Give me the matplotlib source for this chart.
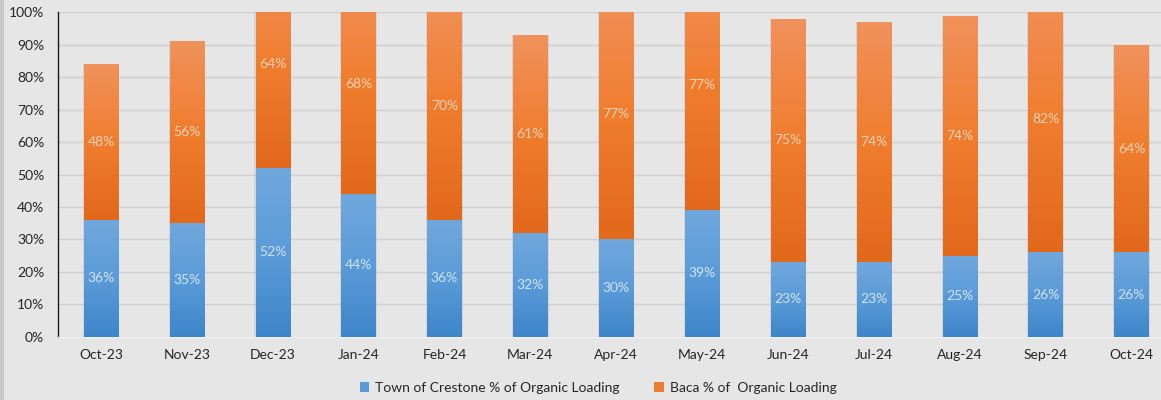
import numpy as np
import matplotlib
matplotlib.use("Agg")
import matplotlib.pyplot as plt
from matplotlib.ticker import PercentFormatter, MultipleLocator
from matplotlib.colors import LinearSegmentedColormap
from matplotlib.patches import Rectangle

months = ["Oct-23", "Nov-23", "Dec-23", "Jan-24", "Feb-24", "Mar-24", "Apr-24",
          "May-24", "Jun-24", "Jul-24", "Aug-24", "Sep-24", "Oct-24"]
crestone = [36, 35, 52, 44, 36, 32, 30, 39, 23, 23, 25, 26, 26]
baca = [48, 56, 64, 68, 70, 61, 77, 77, 75, 74, 74, 82, 64]
series_names = ["Town of Crestone % of Organic Loading", "Baca % of  Organic Loading"]

plt.rcParams['font.family'] = ['Lato', 'DejaVu Sans']

bg = "#e6e6e6"
fig = plt.figure(figsize=(11.61, 4.0), dpi=100, facecolor=bg)
ax = fig.add_axes([58/1161, 1-336.7/400, (1174.4-58)/1161, (336.7-12.3)/400])
ax.set_facecolor(bg)

ymax = 100
x = np.arange(len(months))
w = 0.40
b1 = ax.bar(x, crestone, width=w, color="none", edgecolor="none", zorder=3)
b2 = ax.bar(x, baca, width=w, bottom=crestone, color="none", edgecolor="none", zorder=3)

blue_cmap = LinearSegmentedColormap.from_list("b", ["#3d86c9", "#5a9bd8", "#70a8dd"])
orange_cmap = LinearSegmentedColormap.from_list("o", ["#e2681a", "#f07d2e", "#f1925c"])

grad = np.linspace(0, 1, 256).reshape(-1, 1)
for bars, cmap in ((b1, blue_cmap), (b2, orange_cmap)):
    for p in bars:
        x0, y0 = p.get_x(), p.get_y()
        ww, hh = p.get_width(), p.get_height()
        top = min(y0 + hh, ymax)
        sh = Rectangle((x0 - 0.012, y0), ww + 0.024, top - y0, facecolor="#b8b8b8",
                       edgecolor="none", alpha=0.35, zorder=2)
        ax.add_patch(sh)
        im = ax.imshow(grad, cmap=cmap, aspect="auto", origin="lower",
                       extent=[x0, x0 + ww, y0, y0 + hh], zorder=3,
                       interpolation="bilinear")
        clip = Rectangle((x0, y0), ww, top - y0, transform=ax.transData)
        im.set_clip_path(clip)

for i in range(len(months)):
    ax.text(x[i], crestone[i] / 2, f"{crestone[i]}%", ha="center", va="center",
            fontsize=10, color="white", alpha=0.72, zorder=5)
    ax.text(x[i], crestone[i] + baca[i] / 2, f"{baca[i]}%", ha="center", va="center",
            fontsize=10, color="white", alpha=0.65, zorder=5)

ax.set_xlim(-0.5, len(months) - 0.5)
ax.set_ylim(0, ymax)
ax.yaxis.set_major_locator(MultipleLocator(10))
ax.yaxis.set_major_formatter(PercentFormatter(decimals=0))
ax.set_xticks(x)
ax.set_xticklabels(months)
ax.tick_params(axis="both", length=0, labelsize=10, colors="#262626")
ax.tick_params(axis="x", pad=9)
ax.tick_params(axis="y", pad=10)
ax.grid(axis="y", color="#cfcfcf", linewidth=1, zorder=0)
ax.set_axisbelow(True)
for s in ["top", "right"]:
    ax.spines[s].set_visible(False)
ax.spines["left"].set_color("#1a1a1a")
ax.spines["left"].set_linewidth(1)
ax.spines["bottom"].set_color("#f2f2f2")
ax.spines["bottom"].set_linewidth(1)

handles = [Rectangle((0, 0), 1, 1, facecolor="#5b9bd5"),
           Rectangle((0, 0), 1, 1, facecolor="#ed7d31")]
fig.legend(handles, series_names, loc="center", bbox_to_anchor=(598/1161, 1-388/400),
           ncol=2, frameon=False, fontsize=10, handlelength=0.7, handleheight=0.7,
           handletextpad=0.4, columnspacing=2.5, labelcolor="#262626")

fig.patches.append(Rectangle((0, 0), 4/1161, 1, transform=fig.transFigure,
                             facecolor="#c8c8c8", edgecolor="none"))

fig.savefig("out.png", dpi=100, facecolor=bg)
